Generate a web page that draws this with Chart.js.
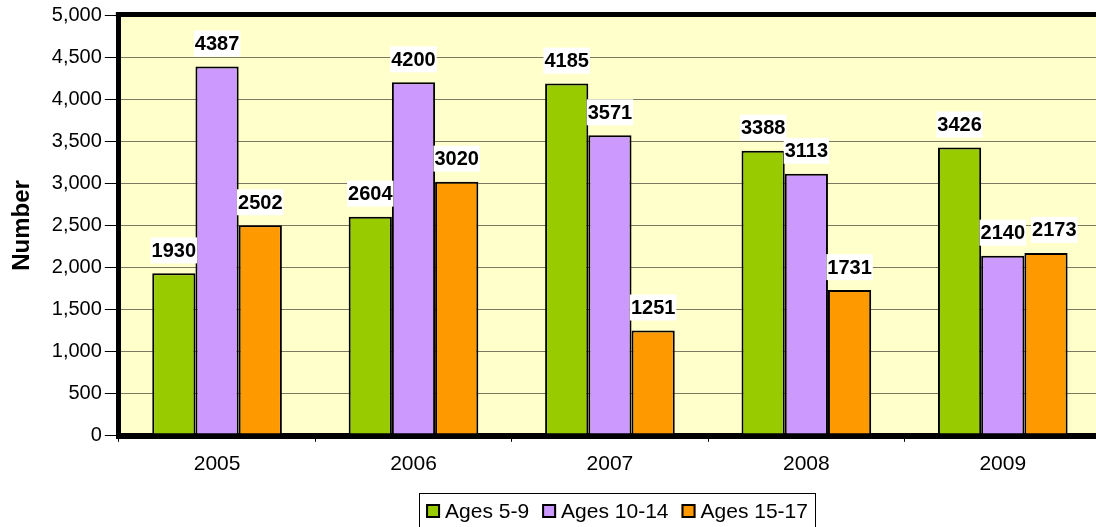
<!DOCTYPE html>
<html>
<head>
<meta charset="utf-8">
<script src="https://cdn.jsdelivr.net/npm/chart.js@4"></script>
<style>
  html, body { margin: 0; padding: 0; background: #ffffff; overflow: hidden; }
  #wrap { width: 1101px; height: 527px; position: relative; }
</style>
</head>
<body>
<div id="wrap"><canvas id="grafico"></canvas></div>
<script>
// dados do gráfico
const anos = ['2005', '2006', '2007', '2008', '2009'];
const idades5a9 = [1930, 2604, 4185, 3388, 3426];
const idades10a14 = [4387, 4200, 3571, 3113, 2140];
const idades15a17 = [2502, 3020, 1251, 1731, 2173];

const fonte = '"Liberation Sans", Arial, sans-serif';

// fundo amarelo, moldura e legenda desenhada à mão
const moldura = {
    id: 'moldura',
    beforeDraw(chart) {
        const { ctx, chartArea: a } = chart;
        ctx.save();
        ctx.fillStyle = '#FFFFCC';
        ctx.fillRect(a.left, a.top, a.right - a.left, a.bottom - a.top);
        ctx.restore();
    },
    afterDraw(chart) {
        const { ctx, chartArea: a } = chart;
        ctx.save();
        ctx.fillStyle = '#000';
        ctx.fillRect(a.left - 3, a.top - 3, a.right - a.left + 6, 5);

        // legenda
        ctx.font = '21px ' + fonte;
        ctx.textBaseline = 'middle';
        const itens = chart.data.datasets.map(ds => ({
            txt: ds.label, cor: ds.backgroundColor, w: ctx.measureText(ds.label).width
        }));
        const caixa = 14, gapTxt = 5, gapItem = 13, padX = 7;
        let total = padX * 2;
        itens.forEach((it, i) => { total += caixa + gapTxt + it.w + (i ? gapItem : 0); });
        const cx = 617;
        let x = cx - total / 2;
        const topo = 493;
        ctx.strokeStyle = '#000';
        ctx.lineWidth = 1;
        ctx.strokeRect(Math.round(x) + 0.5, topo + 0.5, Math.round(total), 60);
        x += padX;
        const ym = 511;
        itens.forEach((it, i) => {
            if (i) x += gapItem;
            ctx.fillStyle = it.cor;
            ctx.fillRect(x, ym - caixa / 2, caixa, caixa);
            ctx.lineWidth = 2;
            ctx.strokeRect(x + 1, ym - caixa / 2 + 1, caixa - 2, caixa - 2);
            x += caixa + gapTxt;
            ctx.fillStyle = '#000';
            ctx.fillText(it.txt, x, ym + 1);
            x += it.w;
        });
        ctx.restore();
    }
};

// rótulos de valores com fundo branco
const rotulos = {
    id: 'rotulos',
    afterDatasetsDraw(chart) {
        const ctx = chart.ctx;
        ctx.save();
        ctx.font = 'bold 20px ' + fonte;
        ctx.textAlign = 'center';
        ctx.textBaseline = 'middle';
        const h = 26;
        anos.forEach((ano, j) => {
            let fimAnterior = null, topoAnterior = null;
            chart.data.datasets.forEach((ds, i) => {
                const bar = chart.getDatasetMeta(i).data[j];
                const txt = String(ds.data[j]);
                const w = ctx.measureText(txt).width + 2;
                const yb = bar.y - 10;
                let cx = bar.x;
                // empurra o rótulo para a direita se cobrir o anterior
                if (fimAnterior !== null && Math.abs(yb - topoAnterior) < h &&
                    cx - w / 2 < fimAnterior - 3) {
                    cx = fimAnterior + 5 + w / 2;
                }
                ctx.fillStyle = '#fff';
                ctx.fillRect(cx - w / 2, yb - h, w, h);
                ctx.fillStyle = '#000';
                ctx.fillText(txt, cx, yb - h / 2 + 1);
                fimAnterior = cx + w / 2;
                topoAnterior = yb;
            });
        });
        ctx.restore();
    }
};

function serie(label, data, cor) {
    return {
        label: label,
        data: data,
        backgroundColor: cor,
        borderColor: '#000',
        borderWidth: 2,
        borderSkipped: false,
        categoryPercentage: 0.66,
        barPercentage: 1.0
    };
}

const ctx = document.getElementById('grafico').getContext('2d');
new Chart(ctx, {
    type: 'bar',
    data: {
        labels: anos,
        datasets: [
            serie('Ages 5-9', idades5a9, '#99CC00'),
            serie('Ages 10-14', idades10a14, '#CC99FF'),
            serie('Ages 15-17', idades15a17, '#FF9900')
        ]
    },
    options: {
        responsive: true,
        maintainAspectRatio: false,
        animation: false,
        layout: { padding: { top: 15, left: 8, right: 0, bottom: 40 } },
        plugins: {
            tooltip: { enabled: false },
            legend: { display: false }
        },
        scales: {
            x: {
                grid: {
                    drawOnChartArea: false,
                    tickLength: 6,
                    tickColor: '#000'
                },
                border: { color: '#000', width: 6 },
                ticks: {
                    font: { family: fonte, size: 21 },
                    color: '#000',
                    padding: 10
                }
            },
            y: {
                min: 0,
                max: 5000,
                ticks: {
                    stepSize: 500,
                    font: { family: fonte, size: 20 },
                    color: '#000',
                    padding: 3
                },
                grid: {
                    color: '#7a7a62',
                    tickLength: 14,
                    tickColor: '#000'
                },
                border: { color: '#000', width: 5 },
                title: {
                    display: true,
                    text: 'Number',
                    font: { family: fonte, size: 24, weight: 'bold' },
                    color: '#000',
                    padding: { top: 0, bottom: 12 }
                }
            }
        }
    },
    plugins: [moldura, rotulos]
});
</script>
</body>
</html>
